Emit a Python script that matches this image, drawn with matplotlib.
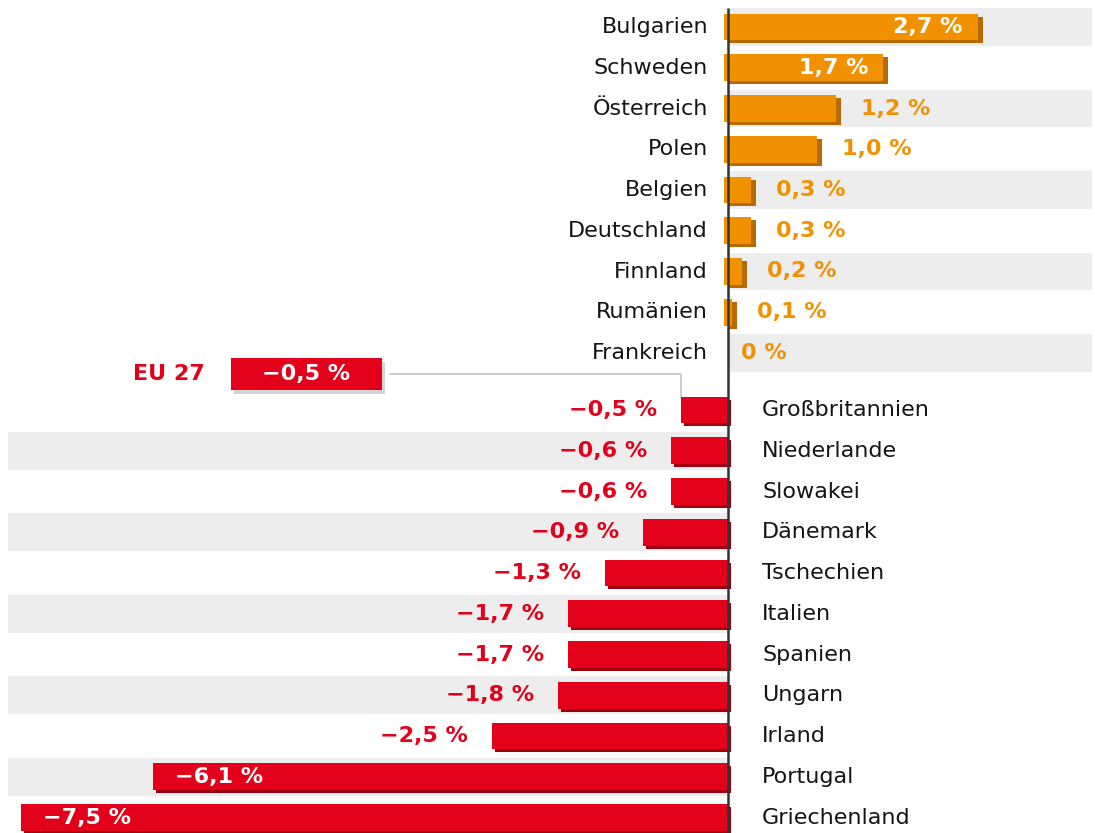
import matplotlib
matplotlib.use("Agg")
import matplotlib.pyplot as plt
from matplotlib import patheffects
from matplotlib.patches import Rectangle

# data (percent change)
countries_pos = ["Bulgarien", "Schweden", "Österreich", "Polen", "Belgien",
                 "Deutschland", "Finnland", "Rumänien", "Frankreich"]
values_pos = [2.7, 1.7, 1.2, 1.0, 0.3, 0.3, 0.2, 0.1, 0.0]
countries_neg = ["Großbritannien", "Niederlande", "Slowakei", "Dänemark",
                 "Tschechien", "Italien", "Spanien", "Ungarn", "Irland",
                 "Portugal", "Griechenland"]
values_neg = [-0.5, -0.6, -0.6, -0.9, -1.3, -1.7, -1.7, -1.8, -2.5, -6.1, -7.5]
eu_label = "EU 27"
eu_value = -0.5

ORANGE = "#F29100"
ORANGE_D = "#B86A00"
RED = "#E2001A"
RED_D = "#9E0012"
BAND = "#EDEDED"
AXIS = "#333333"

W, H = 1095, 833
X0 = 728        # pixel of zero line
PX_X = 94.3     # pixels per percent
Y0 = 27         # pixel centre of first row
PX_Y = 40.75    # pixels per row
dx = 1 / PX_X
dy = 1 / PX_Y
GAP = 0.4       # extra space between the two groups


def fmt(v):
    s = ("%.1f" % abs(v)).replace(".", ",") if v != 0 else "0"
    return ("\u2212" if v < 0 else "") + s + " %"


fig = plt.figure(figsize=(W / 100, H / 100), dpi=100)
ax = fig.add_axes([0, 0, 1, 1])
ax.set_xlim(-X0 / PX_X, (W - X0) / PX_X)
ax.set_ylim((H - Y0) / PX_Y, -Y0 / PX_Y)
ax.axis("off")

bar_h = 0.66
band_h = 0.93
lab_font = dict(family="DejaVu Sans", fontsize=16, color="#151515")
val_font = dict(family="DejaVu Sans", fontsize=16, fontweight="bold")

ys_pos = list(range(len(countries_pos)))
ys_neg = [len(countries_pos) + i + GAP for i in range(len(countries_neg))]

# gray bands on alternating rows
for i, y in enumerate(ys_pos):
    if i % 2 == 0:
        ax.barh(y, (W - 3 - X0) * dx, left=0, height=band_h, color=BAND, zorder=0)
for i, y in enumerate(ys_neg):
    if (i + len(ys_pos)) % 2 == 0:
        ax.barh(y, -(X0 - 8) * dx, left=0, height=band_h, color=BAND, zorder=0)

# positive bars (face + darker shadow edge)
for name, v, y in zip(countries_pos, values_pos, ys_pos):
    if v > 0:
        ax.barh(y + 3 * dy, v, left=0, height=bar_h, color=ORANGE_D, zorder=2)
        ax.barh(y, v - 1 * dx, left=-4 * dx, height=bar_h, color=ORANGE, zorder=3)
    ax.text(-20 * dx, y, name, ha="right", va="center", **lab_font)
    if v >= 1.5:
        ax.text(v - 20 * dx, y, fmt(v), ha="right", va="center",
                color="white", zorder=4, **val_font)
    else:
        ax.text(v + (20 if v > 0 else 13) * dx, y, fmt(v), ha="left",
                va="center", color=ORANGE, zorder=4, **val_font)

# negative bars
for name, v, y in zip(countries_neg, values_neg, ys_neg):
    ax.barh(y + 3 * dy, -v, left=v + 3 * dx, height=bar_h, color=RED_D, zorder=2)
    ax.barh(y, -v, left=v, height=bar_h, color=RED, zorder=3)
    ax.text(34 * dx, y, name, ha="left", va="center", **lab_font)
    if v <= -3:
        ax.text(v + 22 * dx, y, fmt(v), ha="left", va="center",
                color="white", zorder=4, **val_font)
    else:
        ax.text(v - 24 * dx, y, fmt(v), ha="right", va="center",
                color=RED, zorder=4, **val_font)

# zero line
ax.plot([0, 0], [-19 * dy, ys_neg[-1] + 1], color=AXIS, lw=1.8, zorder=5,
        solid_capstyle="butt")

# EU 27 annotation
eu_y = len(countries_pos) - 1 + 0.52
box_l, box_r = -5.27, -3.67
box_h = 32 * dy
ax.plot([box_r + 8 * dx, eu_value, eu_value], [eu_y, eu_y, ys_neg[0] - bar_h / 2],
        color="#C8C8C8", lw=1.3, zorder=1)
box = Rectangle((box_l, eu_y - box_h / 2), box_r - box_l, box_h, fc=RED,
                ec="none", zorder=5)
box.set_path_effects([patheffects.SimplePatchShadow(offset=(2, -3),
                                                    shadow_rgbFace="#AAAAAA",
                                                    alpha=0.5),
                      patheffects.Normal()])
ax.add_patch(box)
ax.text((box_l + box_r) / 2, eu_y, fmt(eu_value), ha="center", va="center",
        color="white", zorder=6, **val_font)
ax.text(-5.55, eu_y, eu_label, ha="right", va="center", color=RED, zorder=6,
        **val_font)

fig.savefig("out.png", dpi=100)
